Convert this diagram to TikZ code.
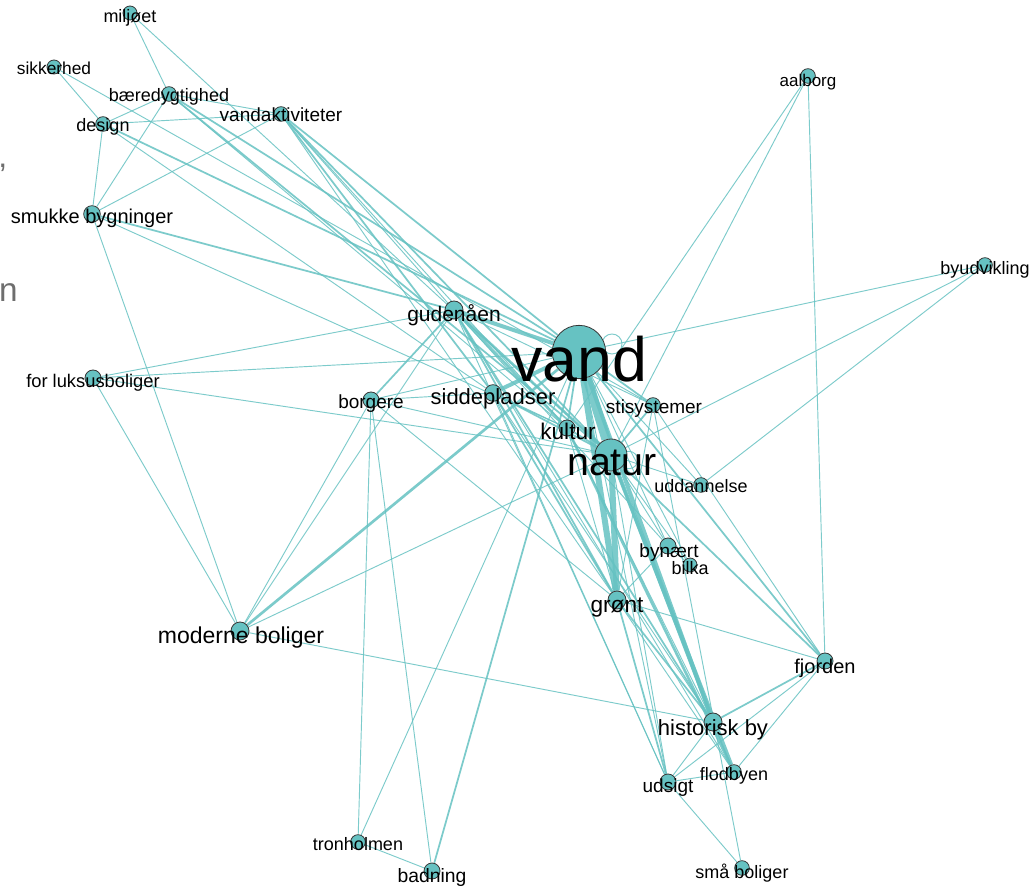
\documentclass[tikz,border=0pt]{standalone}
\usepackage{fontspec}
\setmainfont{Liberation Sans}
\definecolor{tl}{RGB}{102,194,194}
\definecolor{nline}{RGB}{55,55,55}
\definecolor{fragc}{RGB}{110,110,110}
\pgfdeclarelayer{bgfill}
\pgfdeclarelayer{edges}
\pgfsetlayers{bgfill,edges,main}
\tikzset{
  vtx/.style={circle,fill=tl,draw=nline,line width=0.6pt,inner sep=0pt,minimum size=#1},
  lbl/.style={anchor=base,inner sep=0pt,text=black,font=\fontsize{#1}{#1}\selectfont},
  ea/.style={draw=tl,opacity=0.85,line width=0.7pt},
  eb/.style={draw=tl,opacity=0.85,line width=1.3pt},
  ec/.style={draw=tl,opacity=0.85,line width=2.0pt},
  ed/.style={draw=tl,opacity=0.85,line width=3.0pt},
  ee/.style={draw=tl,opacity=0.85,line width=4.5pt},
  ef/.style={draw=tl,opacity=0.85,line width=7pt},
}
\begin{document}
\begin{tikzpicture}[x=0.75pt,y=-0.75pt]
\useasboundingbox (0,0) rectangle (1031,887);
\begin{pgfonlayer}{bgfill}
\fill[white] (0,0) rectangle (1031,887);
\end{pgfonlayer}
\clip (0,0) rectangle (1031,887);
% vertices
\node[vtx=10.5pt] (miljoet) at (130,13) {};
\node[vtx=10.5pt] (sikkerhed) at (54,67) {};
\node[vtx=11pt] (baere) at (169,94) {};
\node[vtx=11pt] (design) at (103,124) {};
\node[vtx=11pt] (vakt) at (281,114) {};
\node[vtx=12.5pt] (smukke) at (92,214) {};
\node[vtx=11pt] (aalborg) at (808,76) {};
\node[vtx=11pt] (byud) at (985,265) {};
\node[vtx=13.5pt] (guden) at (454,310) {};
\node[vtx=40pt] (vand) at (579,352) {};
\node[vtx=12pt] (luksus) at (93,378) {};
\node[vtx=12pt] (borgere) at (371,400) {};
\node[vtx=12.5pt] (sidde) at (493,393) {};
\node[vtx=11pt] (sti) at (653,405) {};
\node[vtx=12pt] (kultur) at (567,428) {};
\node[vtx=24pt] (natur) at (611,455) {};
\node[vtx=11pt] (udd) at (701,485) {};
\node[vtx=12pt] (bynaert) at (668,546) {};
\node[vtx=10.5pt] (bilka) at (690,565) {};
\node[vtx=13.5pt] (gront) at (617,600) {};
\node[vtx=13.5pt] (moderne) at (240,631) {};
\node[vtx=12pt] (fjorden) at (825,661) {};
\node[vtx=13.5pt] (hist) at (713,722) {};
\node[vtx=12pt] (udsigt) at (668,782) {};
\node[vtx=11pt] (flod) at (734,772) {};
\node[vtx=11pt] (smaa) at (742,868) {};
\node[vtx=11pt] (tron) at (358,842) {};
\node[vtx=12pt] (badning) at (432,871) {};
% edges
\begin{pgfonlayer}{edges}
\foreach \a/\b in {miljoet/baere, miljoet/natur, sikkerhed/design, sikkerhed/sti,
  baere/design, baere/vakt, baere/smukke, baere/kultur,
  design/vakt, design/smukke, design/sidde,
  vakt/smukke, vakt/guden, vakt/kultur, vakt/gront,
  smukke/kultur, smukke/moderne,
  luksus/guden, luksus/vand, luksus/natur, luksus/moderne,
  borgere/vand, borgere/sidde, borgere/natur, borgere/gront, borgere/tron, borgere/badning, borgere/moderne,
  guden/moderne, guden/udsigt, guden/sti, guden/bynaert, guden/flod,
  aalborg/kultur, aalborg/natur, aalborg/fjorden,
  byud/vand, byud/natur, byud/udd,
  udd/natur, udd/vand,
  sti/fjorden, sti/smaa, sti/gront,
  natur/bynaert, vand/bynaert, bynaert/bilka, bynaert/gront, bilka/natur, bilka/vand,
  gront/fjorden, gront/flod,
  sidde/udsigt, sidde/hist,
  moderne/natur, moderne/hist,
  tron/vand, tron/badning,
  fjorden/udsigt, fjorden/flod,
  hist/udsigt, hist/flod, udsigt/flod, udsigt/smaa, udsigt/natur, udsigt/vand,
  kultur/hist, kultur/gront, sidde/kultur}
  \draw[ea] (\a) -- (\b);
\foreach \a/\b in {design/vand, vakt/vand, vakt/sidde, vakt/natur, baere/natur, baere/vand,
  smukke/guden, borgere/guden, badning/vand, fjorden/hist, vand/fjorden, natur/fjorden,
  gront/hist, gront/udsigt, sti/vand, sti/natur, kultur/vand, kultur/natur,
  sidde/gront, guden/gront, guden/hist, sidde/natur}
  \draw[eb] (\a) -- (\b);
\foreach \a/\b in {moderne/vand, guden/natur, guden/kultur, natur/hist, kultur/flod}
  \draw[ec] (\a) -- (\b);
\foreach \a/\b in {sidde/vand, guden/vand, vand/hist, natur/flod}
  \draw[ed] (\a) -- (\b);
\foreach \a/\b in {vand/gront, natur/gront}
  \draw[ee] (\a) -- (\b);
\draw[ef] (vand) -- (natur);
\draw[ea] ([shift={(33,-8)}]vand.center) circle[radius=7.5pt];
\draw[ea] ([shift={(18,5)}]natur.center) circle[radius=6.5pt];
\end{pgfonlayer}
% labels
\node[lbl=13.5pt] (l-miljoet) at (130,23) {miljøet};
\node[lbl=13pt] (l-sikkerhed) at (54,75) {sikkerhed};
\node[lbl=13.5pt] (l-baere) at (169,102) {bæredygtighed};
\node[lbl=13.5pt] (l-design) at (103,132) {design};
\node[lbl=14.25pt] (l-vakt) at (281,122) {vandaktiviteter};
\node[lbl=15pt] (l-smukke) at (92,224) {smukke bygninger};
\node[lbl=12.75pt] (l-aalborg) at (808,87) {aalborg};
\node[lbl=13.5pt] (l-byud) at (985,275) {byudvikling};
\node[lbl=15.75pt] (l-guden) at (454,322) {gudenåen};
\node[lbl=47pt] (l-vand) at (579,382) {vand};
\node[lbl=13.75pt] (l-luksus) at (93,388) {for luksusboliger};
\node[lbl=14.25pt] (l-borgere) at (371,409) {borgere};
\node[lbl=16.5pt] (l-sidde) at (493,405) {siddepladser};
\node[lbl=14.25pt] (l-sti) at (654,414) {stisystemer};
\node[lbl=17pt] (l-kultur) at (568,440) {kultur};
\node[lbl=29.5pt] (l-natur) at (612,475) {natur};
\node[lbl=13.5pt] (l-udd) at (701,493) {uddannelse};
\node[lbl=14.25pt] (l-bynaert) at (669,557) {bynært};
\node[lbl=13.5pt] (l-bilka) at (690,574) {bilka};
\node[lbl=17pt] (l-gront) at (617,612) {grønt};
\node[lbl=17.25pt] (l-moderne) at (241,643) {moderne boliger};
\node[lbl=15pt] (l-fjorden) at (825,673) {fjorden};
\node[lbl=16.5pt] (l-hist) at (713,735) {historisk by};
\node[lbl=14.25pt] (l-udsigt) at (668,792) {udsigt};
\node[lbl=13.5pt] (l-flod) at (734,780) {flodbyen};
\node[lbl=13.5pt] (l-smaa) at (742,878) {små boliger};
\node[lbl=13.5pt] (l-tron) at (358,850) {tronholmen};
\node[lbl=14.5pt] (l-badning) at (432,882) {badning};
% cut-off fragments at left edge
\node[anchor=base west,inner sep=0pt,text=fragc,font=\fontsize{24pt}{24pt}\selectfont] (frag1) at (-2,168) {,};
\node[anchor=base east,inner sep=0pt,text=fragc,font=\fontsize{25pt}{25pt}\selectfont] (frag2) at (18,302) {n};
\end{tikzpicture}
\end{document}
